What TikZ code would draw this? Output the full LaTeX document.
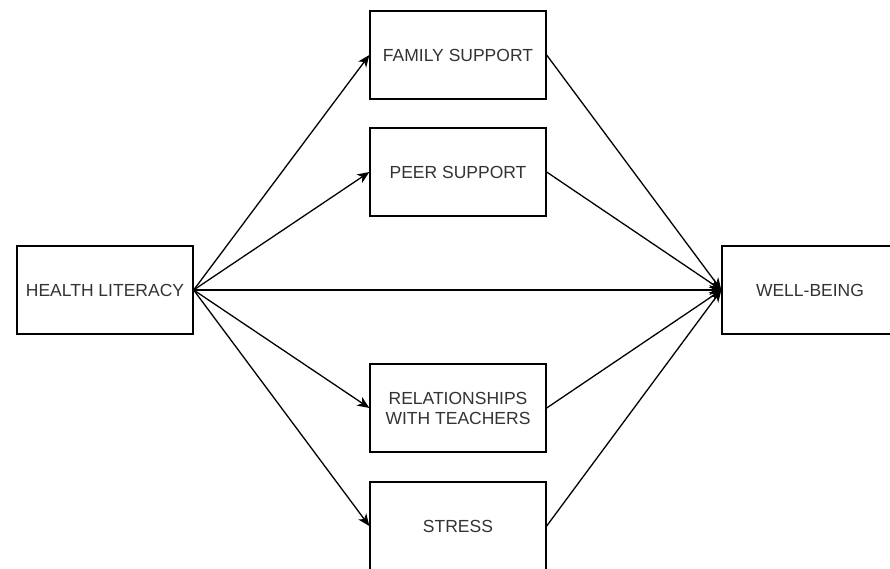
\documentclass[tikz,border=0pt]{standalone}
\usepackage{fontspec}
\setmainfont{Liberation Sans}
\usetikzlibrary{arrows.meta}
\definecolor{txt}{HTML}{333333}
\begin{document}
\begin{tikzpicture}[x=1pt,y=-1pt,
  box/.style={draw=black,line width=1.3pt,fill=white,minimum width=176pt,minimum height=88pt,
    inner sep=0pt,align=center,text=txt,font=\fontsize{17.5}{20}\selectfont},
  conn/.style={draw=black,line width=1.3pt,-{Stealth[length=12pt,width=10pt,inset=3.5pt]}}]
\useasboundingbox (0,0) rectangle (890,568);
\node[box] (hl) at (105,290) {HEALTH LITERACY};
\node[box] (fs) at (458,55) {FAMILY SUPPORT};
\node[box] (ps) at (458,172) {PEER SUPPORT};
\node[box] (rt) at (458,408) {RELATIONSHIPS\\WITH TEACHERS};
\node[box] (st) at (458,526) {STRESS};
\node[box] (wb) at (810,290) {WELL-BEING};
\foreach \t in {fs,ps,rt,st,wb} \draw[conn] (hl.east) -- (\t.west);
\foreach \s in {fs,ps,rt,st} \draw[conn] (\s.east) -- (wb.west);
\end{tikzpicture}
\end{document}
